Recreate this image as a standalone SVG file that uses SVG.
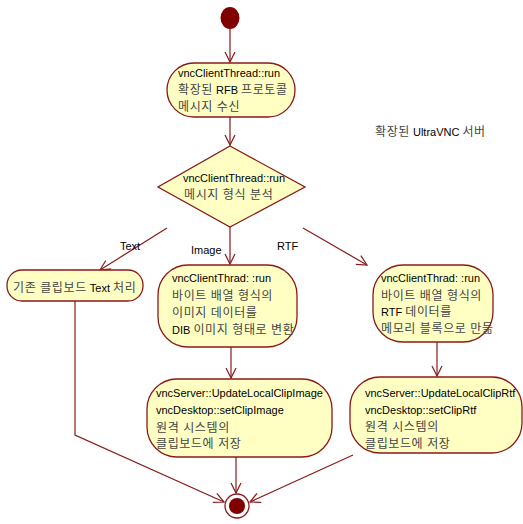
<svg xmlns="http://www.w3.org/2000/svg" width="523" height="524" viewBox="0 0 523 524">
<style>
.n{fill:#ffffc4;stroke:#8b1a1a;stroke-width:1.3}
.c{fill:none;stroke:#8b1a1a;stroke-width:1.2}
text{font-family:"Liberation Sans","Noto Sans CJK KR",sans-serif;font-size:11px;fill:#000}
.k{fill:#444;font-size:12px;letter-spacing:0.6px}
</style>
<defs>
<marker id="a" markerWidth="12" markerHeight="12" refX="11" refY="6" orient="auto" markerUnits="userSpaceOnUse">
<path d="M1,1 L11,6 L1,11" fill="none" stroke="#8b1a1a" stroke-width="1.2"/>
</marker>
</defs>
<g id="connectors">
<line class="c" x1="230" y1="29" x2="230" y2="62" marker-end="url(#a)"/>
<line class="c" x1="230" y1="117" x2="230" y2="145" marker-end="url(#a)"/>
<line class="c" x1="167" y1="228" x2="100" y2="270" marker-end="url(#a)"/>
<line class="c" x1="230" y1="227" x2="230" y2="264" marker-end="url(#a)"/>
<line class="c" x1="303" y1="228" x2="367" y2="265" marker-end="url(#a)"/>
<line class="c" x1="231" y1="347" x2="231" y2="378" marker-end="url(#a)"/>
<line class="c" x1="437" y1="342" x2="437" y2="376" marker-end="url(#a)"/>
<polyline class="c" points="75,301 75,435 224,502" marker-end="url(#a)"/>
<line class="c" x1="236" y1="457" x2="236" y2="493" marker-end="url(#a)"/>
<line class="c" x1="353" y1="455" x2="250" y2="502" marker-end="url(#a)"/>
<text x="120" y="250">Text</text>
<text x="191" y="254">Image</text>
<text x="277" y="250">RTF</text>
</g>
<g id="start"><ellipse cx="230" cy="18" rx="9.5" ry="11" fill="#800000"/></g>
<g id="recvMsg">
<rect class="n" x="167" y="63" width="128" height="54" rx="27"/>
<text x="178" y="77">vncClientThread::run</text>
<text x="178" y="94"><tspan class="k">확장된</tspan> RFB <tspan class="k">프로토콜</tspan></text>
<text x="178" y="111" class="k">메시지 수신</text>
</g>
<g id="decision">
<polygon class="n" points="230,146 305,187 230,227 158,187"/>
<text x="183" y="182">vncClientThread::run</text>
<text x="184" y="199" class="k">메시지 형식 분석</text>
</g>
<g id="textNode">
<rect class="n" x="7" y="270" width="136" height="31" rx="15"/>
<text x="13" y="292"><tspan class="k">기존 클립보드</tspan> Text <tspan class="k">처리</tspan></text>
</g>
<g id="imageNode">
<rect class="n" x="158" y="265" width="139" height="82" rx="30"/>
<text x="172" y="282">vncClientThrad: :run</text>
<text x="172" y="300" class="k">바이트 배열 형식의</text>
<text x="172" y="317" class="k">이미지 데이터를</text>
<text x="172" y="334">DIB <tspan class="k">이미지 형태로 변환</tspan></text>
</g>
<g id="rtfNode">
<rect class="n" x="373" y="265" width="120" height="77" rx="30"/>
<text x="381" y="282">vncClientThrad: :run</text>
<text x="381" y="300" class="k">바이트 배열 형식의</text>
<text x="381" y="316">RTF <tspan class="k">데이터를</tspan></text>
<text x="381" y="333" class="k">메모리 블록으로 만듦</text>
</g>
<g id="setImage">
<rect class="n" x="147" y="379" width="185" height="78" rx="30"/>
<text x="156" y="397">vncServer::UpdateLocalClipImage</text>
<text x="156" y="414">vncDesktop::setClipImage</text>
<text x="156" y="432" class="k">원격 시스템의</text>
<text x="156" y="448" class="k">클립보드에 저장</text>
</g>
<g id="setRtf">
<rect class="n" x="350" y="377" width="172" height="76" rx="30"/>
<text x="365" y="397">vncServer::UpdateLocalClipRtf</text>
<text x="365" y="414">vncDesktop::setClipRtf</text>
<text x="365" y="431" class="k">원격 시스템의</text>
<text x="365" y="448" class="k">클립보드에 저장</text>
</g>
<g id="end">
<circle cx="237" cy="506" r="12" fill="#fff" stroke="#8b1a1a" stroke-width="1.3"/>
<circle cx="237" cy="506" r="8" fill="#800000"/>
</g>
<g id="label"><text x="375" y="136"><tspan class="k">확장된</tspan> UltraVNC <tspan class="k">서버</tspan></text></g>
</svg>
